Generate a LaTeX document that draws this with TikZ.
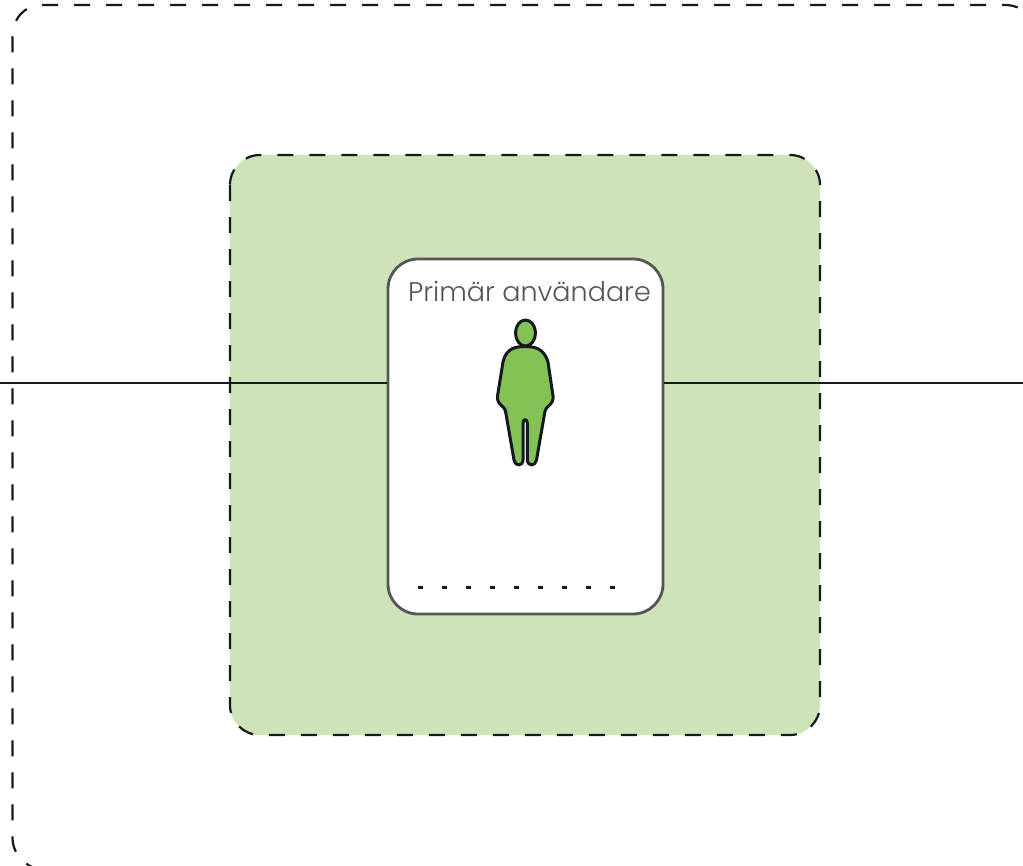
\documentclass[tikz,border=0pt]{standalone}
\usepackage{fontspec}
\setmainfont{Poppins Light}
\definecolor{ink}{HTML}{14181F}
\definecolor{panel}{HTML}{CCE4B7}
\definecolor{cardline}{HTML}{555555}
\definecolor{figgreen}{HTML}{85C255}
\tikzset{
  dashframe/.style={draw=ink,line width=2.2pt,dash pattern=on 16pt off 16pt},
  wire/.style={draw=ink,line width=2pt},
  card/.style={draw=cardline,fill=white,line width=2.8pt,rounded corners=30pt},
  figure part/.style={draw=ink,fill=figgreen,line width=3pt,line join=round},
  cardtitle/.style={text=cardline,font=\fontsize{27}{32}\selectfont,inner sep=0pt,anchor=base},
}
\begin{document}
\begin{tikzpicture}[x=1pt,y=-1pt]
\useasboundingbox (0,0) rectangle (1023,865);
\coordinate (wl) at (0,383);
\coordinate (wr) at (1023,383);
% outer frame
\draw[dashframe] (42,5) -- (1005,5) .. controls (1016,5) and (1026,10) .. (1032,20);
\draw[dashframe,dash phase=16pt] (42,5) .. controls (25,5) and (12.5,18) .. (12.5,37) -- (12.5,838) .. controls (12.5,850) and (20,862) .. (34,868);
% green panel
\draw[fill=panel,dashframe,rounded corners=30pt] (230,155) rectangle (820,735);
% white card
\node[card,minimum width=275pt,minimum height=355pt,inner sep=0pt] (c) at (525.5,436.5) {};
\node[cardtitle] (t) at (529.5,301) {Primär användare};
% wires
\draw[wire] (wl) -- (wl -| c.west);
\draw[wire] (wr -| c.east) -- (wr);
% dots
\coordinate (d1) at (418,587);
\coordinate (d2) at (617,587);
\draw[draw=ink,line width=3pt,dash pattern=on 5pt off 19pt] (d1) -- (d2);
% person
\draw[figure part] (525.5,333) ellipse (10pt and 13pt);
\draw[figure part] (525,346.5)
  .. controls (534,346.5) and (544,348) .. (548,362)
  -- (553,396) .. controls (553.5,400) and (552,403) .. (549,405.5)
  .. controls (546,408) and (545,410) .. (544.5,414)
  -- (536.5,460) .. controls (535.5,466) and (528,467) .. (527.3,460)
  -- (527.3,423) .. controls (527.3,418.5) and (523,418.5) .. (523,423)
  -- (523,460) .. controls (522.5,467) and (515,466) .. (514,460)
  -- (506,414) .. controls (505.5,410) and (504.5,408) .. (501.5,405.5)
  .. controls (498.5,403) and (497,400) .. (497.5,396)
  -- (503,362) .. controls (506,348) and (516,346.5) .. (525,346.5) -- cycle;
\end{tikzpicture}
\end{document}
